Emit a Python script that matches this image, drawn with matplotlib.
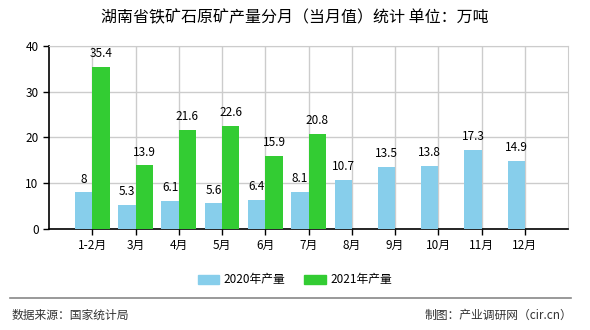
import matplotlib
matplotlib.use("Agg")
import matplotlib.pyplot as plt
from matplotlib.patches import Patch
import numpy as np

plt.rcParams['font.family'] = ['Noto Sans CJK SC', 'DejaVu Sans']

months = ['1-2月', '3月', '4月', '5月', '6月', '7月', '8月', '9月', '10月', '11月', '12月']
prod_2020 = [8, 5.3, 6.1, 5.6, 6.4, 8.1, 10.7, 13.5, 13.8, 17.3, 14.9]
prod_2021 = [35.4, 13.9, 21.6, 22.6, 15.9, 20.8]

c2020 = '#87CEEB'
c2021 = '#33CC33'

fig = plt.figure(figsize=(5.9, 3.3), dpi=100)
ax = fig.add_axes([0.083, 0.306, 0.880, 0.555])

x = np.arange(len(months))
w = 0.4
x20 = x[:len(prod_2020)]
x21 = x[:len(prod_2021)]
ax.bar(x20 - w / 2, prod_2020, w, color=c2020, zorder=3)
ax.bar(x21 + w / 2, prod_2021, w, color=c2021, zorder=3)

for xi, v in zip(x20, prod_2020):
    ax.text(xi - w / 2, v + 1.5, f'{v:g}', ha='center', va='bottom', fontsize=8.5, zorder=4)
for xi, v in zip(x21, prod_2021):
    ax.text(xi + w / 2, v + 1.5, f'{v:g}', ha='center', va='bottom', fontsize=8.5, zorder=4)

ax.set_xlim(-1, 11)
ax.set_ylim(0, 40)
ax.set_yticks([0, 10, 20, 30, 40])
ax.set_xticks(x)
ax.set_xticklabels(months, fontsize=8.5)
ax.tick_params(axis='y', labelsize=8.5, length=4, width=1)
ax.tick_params(axis='x', length=4, width=1)
ax.grid(True, color='#CCCCCC', linewidth=1, zorder=0)
ax.set_axisbelow(True)
for s in ['top', 'right']:
    ax.spines[s].set_color('#CCCCCC')
for s in ['left', 'bottom']:
    ax.spines[s].set_color('black')
    ax.spines[s].set_linewidth(1.2)

fig.text(0.5, 0.947, '湖南省铁矿石原矿产量分月（当月值）统计 单位：万吨',
         ha='center', va='center', fontsize=11.5)

handles = [Patch(color=c2020, label='2020年产量'), Patch(color=c2021, label='2021年产量')]
fig.legend(handles=handles, loc='center', bbox_to_anchor=(0.5, 0.152), ncol=2,
           frameon=False, fontsize=8.5, handlelength=1.8, handleheight=0.8,
           columnspacing=1.6, handletextpad=0.4)

fig.add_artist(plt.Line2D([0.017, 0.967], [0.098, 0.098], color='#888888', linewidth=1.2))
fig.text(0.02, 0.045, '数据来源：国家统计局', ha='left', va='center', fontsize=8.5, color='#333333')
fig.text(0.97, 0.045, '制图：产业调研网（cir.cn）', ha='right', va='center', fontsize=8.5, color='#333333')

fig.savefig('out.png', dpi=100)
